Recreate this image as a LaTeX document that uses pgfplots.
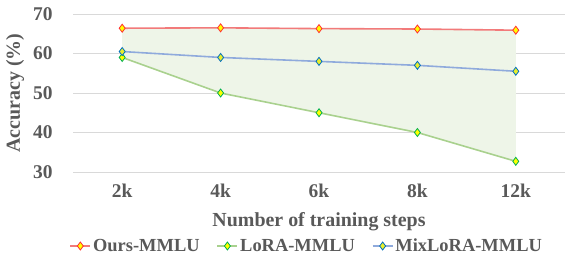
\documentclass[border=0pt]{standalone}
\usepackage{fontspec}
\setmainfont{Liberation Serif}
\usepackage{pgfplots}
\pgfplotsset{compat=1.18}
\usepgfplotslibrary{fillbetween}
\definecolor{txt}{HTML}{595959}
\definecolor{gridc}{HTML}{D9D9D9}
\definecolor{redl}{HTML}{F27A7A}
\definecolor{greenl}{HTML}{A9D18E}
\definecolor{bluel}{HTML}{8FAADC}
\definecolor{rede}{HTML}{FF3030}
\definecolor{greene}{HTML}{00B050}
\definecolor{bluee}{HTML}{0070C0}
\definecolor{fillc}{HTML}{EEF5E8}
\definecolor{mk}{HTML}{FFFF00}
\begin{document}
\begin{tikzpicture}[x=1bp,y=1bp]
\begin{axis}[
  set layers,
  at={(0,0)}, anchor=south west,
  scale only axis, width=492bp, height=158bp,
  xmin=-0.5, xmax=4.5, ymin=30, ymax=70,
  xtick={0,1,2,3,4}, xticklabels={2k,4k,6k,8k,12k},
  ytick={30,40,50,60,70},
  ymajorgrids, grid style={gridc, line width=1bp},
  axis line style={draw=none},
  major tick length=0pt,
  tick label style={font=\fontsize{19.5}{21}\selectfont\bfseries, text=txt},
  /pgf/number format/assume math mode=true,
  yticklabel style={xshift=-17bp},
  xticklabel style={yshift=-8bp},
  xlabel={Number of training steps},
  ylabel={Accuracy (\%)},
  label style={font=\fontsize{20}{22}\selectfont\bfseries, text=txt},
  xlabel style={at={(axis description cs:0.5,0)}, anchor=center, yshift=-50bp},
  ylabel style={at={(axis description cs:0,0.5)}, anchor=center, yshift=58bp},
  legend columns=3,
  legend style={draw=none, fill=none, at={(0.475,0)}, anchor=center, yshift=-74bp,
    font=\fontsize{18.5}{20}\selectfont\bfseries, text=txt,
    /tikz/every even column/.append style={column sep=15bp}},
  legend image code/.code={
    \draw[#1] (0bp,0bp) -- (20bp,0bp);
    \draw[#1, mark repeat=1, only marks] plot coordinates {(10bp,0bp)};
  },
]
\addplot[name path=ours, redl, line width=1.6bp, mark=diamond*, mark size=4bp,
  mark options={fill=mk, draw=rede, line width=0.8bp, solid}]
  coordinates {(0,66.4) (1,66.5) (2,66.3) (3,66.2) (4,65.9)};
\addlegendentry{Ours-MMLU}
\addplot[name path=lora, greenl, line width=1.6bp, mark=diamond*, mark size=4bp,
  mark options={fill=mk, draw=greene, line width=0.8bp, solid}]
  coordinates {(0,59) (1,50) (2,45) (3,40) (4,32.7)};
\addlegendentry{LoRA-MMLU}
\addplot[bluel, line width=1.6bp, mark=diamond*, mark size=4bp,
  mark options={fill=mk!80!bluel, draw=bluee, line width=0.8bp, solid}]
  coordinates {(0,60.5) (1,59) (2,58) (3,57) (4,55.5)};
\addlegendentry{MixLoRA-MMLU}
\addplot[fillc, forget plot] fill between[of=ours and lora];
\end{axis}
\pgfresetboundingbox
\path[use as bounding box] (-73bp,-85bp) rectangle (492bp,172bp);
\end{tikzpicture}
\end{document}
